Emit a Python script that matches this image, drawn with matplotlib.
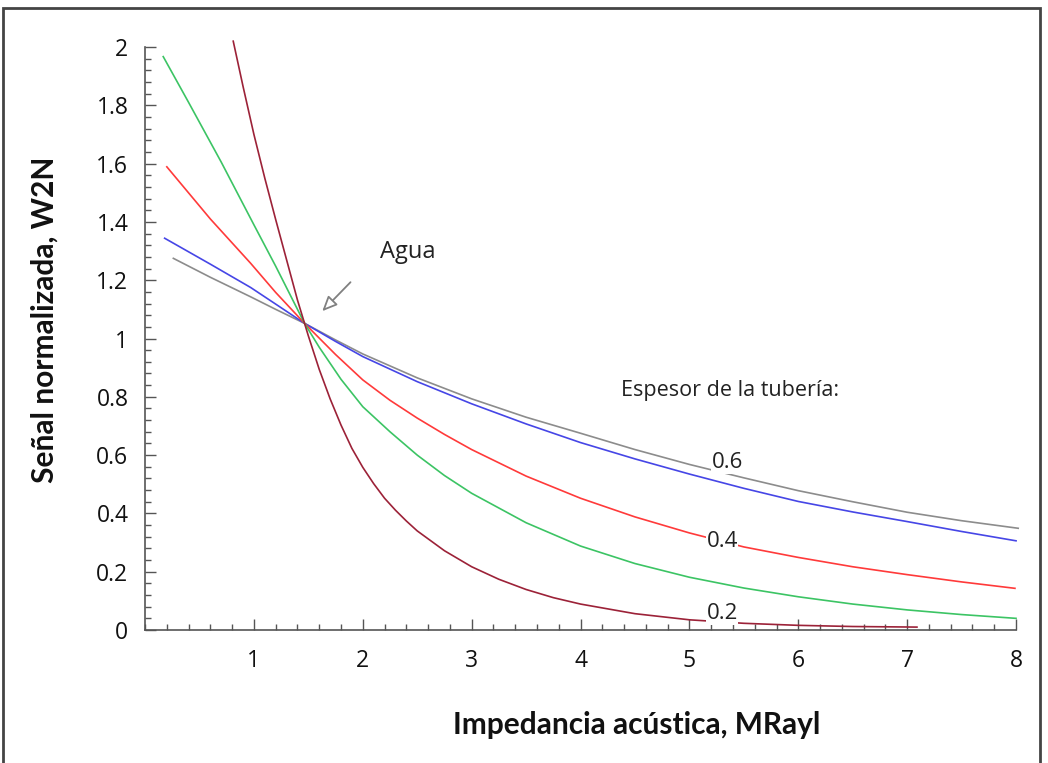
import matplotlib
matplotlib.use("Agg")
import matplotlib.pyplot as plt
from matplotlib.ticker import MultipleLocator
from matplotlib.patches import Rectangle

plt.rcParams['font.family'] = ['Lato', 'DejaVu Sans']
SMALL_FONT = ['Open Sans', 'DejaVu Sans']

# Espesor 0.6 (gris)
x_g6 = [0.26, 0.6, 0.97, 1.2, 1.465, 1.75, 2.0, 2.5, 3.0, 3.5, 4.0, 4.5, 5.0, 5.5, 6.0, 6.5, 7.0, 7.5, 8.02]
y_g6 = [1.275, 1.21, 1.143, 1.10, 1.052, 0.995, 0.947, 0.865, 0.793, 0.73, 0.675, 0.619, 0.568, 0.522, 0.478, 0.44, 0.404, 0.375, 0.349]
# azul
x_b = [0.18, 0.6, 0.97, 1.2, 1.465, 1.75, 2.0, 2.5, 3.0, 3.5, 4.0, 4.5, 5.0, 5.5, 6.0, 6.5, 7.0, 7.5, 8.0]
y_b = [1.344, 1.255, 1.175, 1.118, 1.052, 0.99, 0.938, 0.852, 0.776, 0.707, 0.643, 0.587, 0.535, 0.486, 0.441, 0.405, 0.372, 0.338, 0.306]
# Espesor 0.4 (rojo)
x_r4 = [0.2, 0.6, 0.97, 1.2, 1.465, 1.75, 2.0, 2.25, 2.5, 2.75, 3.0, 3.5, 4.0, 4.5, 5.0, 5.5, 6.0, 6.5, 7.0, 7.5, 7.99]
y_r4 = [1.589, 1.41, 1.258, 1.158, 1.052, 0.945, 0.858, 0.788, 0.727, 0.671, 0.619, 0.528, 0.452, 0.388, 0.333, 0.285, 0.249, 0.217, 0.19, 0.165, 0.143]
# verde
x_v = [0.167, 0.4, 0.7, 1.0, 1.2, 1.465, 1.6, 1.8, 2.0, 2.25, 2.5, 2.75, 3.0, 3.5, 4.0, 4.5, 5.0, 5.5, 6.0, 6.5, 7.0, 7.5, 8.0]
y_v = [1.967, 1.81, 1.605, 1.39, 1.248, 1.052, 0.97, 0.86, 0.766, 0.68, 0.60, 0.53, 0.469, 0.368, 0.288, 0.228, 0.181, 0.144, 0.114, 0.089, 0.069, 0.053, 0.040]
# Espesor 0.2 (granate)
x_d2 = [0.81, 0.9, 1.0, 1.1, 1.2, 1.3, 1.4, 1.465, 1.5, 1.6, 1.7, 1.8, 1.9, 2.0, 2.1, 2.2, 2.3, 2.4, 2.5,
        2.75, 3.0, 3.25, 3.5, 3.75, 4.0, 4.5, 5.0, 5.5, 6.0, 6.5, 7.09]
y_d2 = [2.02, 1.865, 1.70, 1.55, 1.408, 1.27, 1.132, 1.052, 1.009, 0.894, 0.793, 0.703, 0.623, 0.558, 0.502, 0.452, 0.411, 0.374, 0.340,
        0.272, 0.217, 0.174, 0.139, 0.111, 0.089, 0.056, 0.035, 0.023, 0.016, 0.012, 0.010]

series = [
    (x_g6, y_g6, '#8c8c8c'),
    (x_b, y_b, '#4646e6'),
    (x_r4, y_r4, '#ff3a3a'),
    (x_v, y_v, '#3cc464'),
    (x_d2, y_d2, '#9c2238'),
]

curve_labels = ['0.6', '0.4', '0.2']
label_x = [5.35, 5.30, 5.30]
label_y = [0.573, 0.305, 0.055]

xticks = [1, 2, 3, 4, 5, 6, 7, 8]
yticks = [0, 0.2, 0.4, 0.6, 0.8, 1, 1.2, 1.4, 1.6, 1.8, 2]
ytick_labels = ['0', '0.2', '0.4', '0.6', '0.8', '1', '1.2', '1.4', '1.6', '1.8', '2']

fig = plt.figure(figsize=(10.48, 7.63), dpi=100)
ax = fig.add_axes([0.1384, 0.1743, 0.8311, 0.7641])

for xs, ys, c in series:
    ax.plot(xs, ys, color=c, lw=1.2, clip_on=False, zorder=2)

for t, lx, ly in zip(curve_labels, label_x, label_y):
    ax.text(lx, ly, t, fontsize=16, family=SMALL_FONT, ha='center', va='center',
            color='#222222',
            bbox=dict(facecolor='white', edgecolor='none', pad=0.3), zorder=3)

ax.text(4.37, 0.823, 'Espesor de la tubería:', fontsize=15.5, family=SMALL_FONT,
        ha='left', va='center', color='#222222')
ax.text(2.41, 1.297, 'Agua', fontsize=17, family=SMALL_FONT, ha='center', va='center',
        color='#222222')
ax.annotate('', xy=(1.61, 1.087), xytext=(1.905, 1.20),
            arrowprops=dict(arrowstyle='-|>,head_length=0.9,head_width=0.4',
                            facecolor='white', edgecolor='#808080', lw=1.3))

ax.set_xlim(0, 8)
ax.set_ylim(0, 2)
ax.set_xticks(xticks)
ax.set_xticklabels([str(v) for v in xticks], family=SMALL_FONT)
ax.set_yticks(yticks)
ax.set_yticklabels(ytick_labels, family=SMALL_FONT)
ax.xaxis.set_minor_locator(MultipleLocator(0.2))
ax.yaxis.set_minor_locator(MultipleLocator(0.04))

for s in ['top', 'right']:
    ax.spines[s].set_visible(False)
for s in ['left', 'bottom']:
    ax.spines[s].set_color('#555555')
    ax.spines[s].set_linewidth(1.2)

ax.tick_params(which='major', direction='in', length=8, width=1.0, color='#555555',
               labelsize=16.5, labelcolor='#111111')
ax.tick_params(which='minor', direction='in', length=4, width=1.0, color='#555555')
ax.tick_params(axis='x', which='major', pad=14)
ax.tick_params(axis='y', which='major', pad=12)

ax.set_xlabel('Impedancia acústica, MRayl', fontsize=21.5, fontweight='bold',
              color='#111111', va='center')
ax.xaxis.set_label_coords(0.565, -0.163)
ax.set_ylabel('Señal normalizada, W2N', fontsize=21.5, fontweight='bold',
              color='#111111', va='center')
ax.yaxis.set_label_coords(-0.1148, 0.532)

fig.patches.append(Rectangle((3 / 1048, -0.01), 1037 / 1048, (763 - 8) / 763 + 0.01,
                             transform=fig.transFigure, fill=False,
                             edgecolor='#444444', lw=2.0))

fig.savefig('out.png', dpi=100)
